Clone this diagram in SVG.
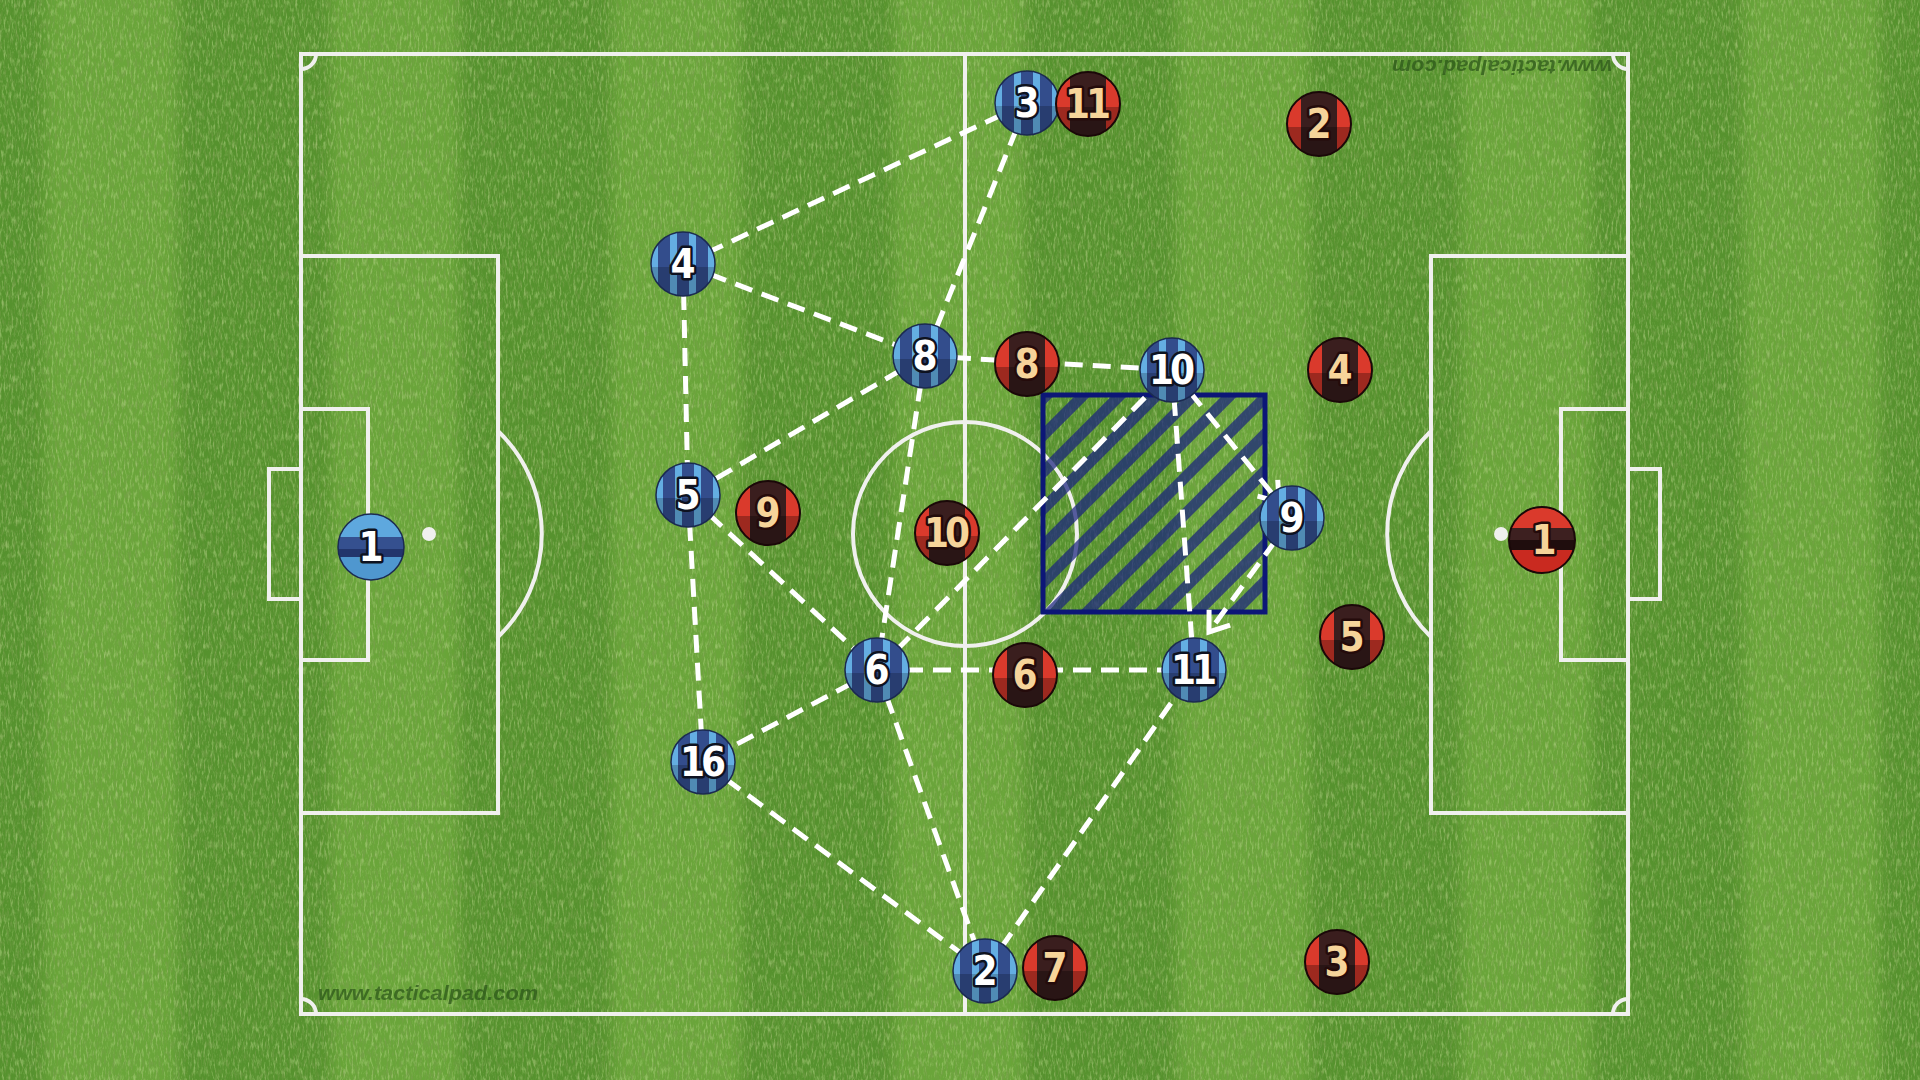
<svg xmlns="http://www.w3.org/2000/svg" xmlns:xlink="http://www.w3.org/1999/xlink" width="1920" height="1080" viewBox="0 0 1920 1080">
<style>
.line{fill:none;stroke:#f0f0ee;stroke-width:4}
.conn{fill:none;stroke:#ffffff;stroke-width:5;stroke-dasharray:18 10}
.num{font-family:"DejaVu Sans Condensed","DejaVu Sans",sans-serif;font-weight:bold;font-size:40px;text-anchor:middle;paint-order:stroke;stroke-linejoin:round;stroke-width:5}
.bn{fill:#ffffff;stroke:#0e1220}
.rn{fill:#f6d49a;stroke:#240b0b}
.two{letter-spacing:-4px}
.wm{font-family:"Liberation Sans",Arial,sans-serif;font-weight:bold;font-style:italic;font-size:20px;fill:#2a5418;opacity:.7}
</style>
<defs>
<filter id="grainD" x="0" y="0" width="1" height="1">
<feTurbulence type="fractalNoise" baseFrequency="0.45 0.1" numOctaves="3" seed="7"/>
<feColorMatrix type="matrix" values="0 0 0 0 0.2  0 0 0 0 0.34  0 0 0 0 0.08  3 0 0 0 -1.4"/>
</filter>
<filter id="grainL" x="0" y="0" width="1" height="1">
<feTurbulence type="fractalNoise" baseFrequency="0.5 0.12" numOctaves="3" seed="21"/>
<feColorMatrix type="matrix" values="0 0 0 0 0.55  0 0 0 0 0.75  0 0 0 0 0.3  3 0 0 0 -1.45"/>
</filter>
<filter id="soft" x="-0.1" y="0" width="1.2" height="1"><feGaussianBlur stdDeviation="7 0"/></filter>
<pattern id="hatch" patternUnits="userSpaceOnUse" width="26" height="26" patternTransform="rotate(45)">
<rect x="0" y="0" width="11" height="26" fill="#1a237e" fill-opacity="0.72"/>
</pattern>
<clipPath id="cp"><circle r="32"/></clipPath>
<clipPath id="cpg"><circle r="33"/></clipPath>
<marker id="arrow" markerUnits="userSpaceOnUse" markerWidth="40" markerHeight="40" viewBox="-30 -20 40 40" refX="0" refY="0" orient="auto">
<path d="M-18,-13 L0,0 L-18,13" fill="none" stroke="#ffffff" stroke-width="5" stroke-linecap="butt" stroke-linejoin="miter"/>
</marker>
<g id="blueTok">
<g clip-path="url(#cp)">
<rect x="-32" y="-32" width="64" height="64" fill="#64aee2"/>
<rect x="-25" y="-32" width="12" height="64" fill="#334d8c"/>
<rect x="-6" y="-32" width="12" height="64" fill="#334d8c"/>
<rect x="13" y="-32" width="12" height="64" fill="#334d8c"/>
<rect x="-32" y="3" width="64" height="30" fill="#000" opacity="0.2"/>
</g>
<circle r="32" fill="none" stroke="#1b2a50" stroke-width="1.5"/>
</g>
<g id="redTok">
<g clip-path="url(#cp)">
<rect x="-32" y="-32" width="64" height="64" fill="#da3a2c"/>
<rect x="-18" y="-32" width="36" height="64" fill="#3a1e1e"/>
<rect x="-32" y="3" width="64" height="30" fill="#000" opacity="0.28"/>
</g>
<circle r="32" fill="none" stroke="#1a0808" stroke-width="2"/>
</g>
<g id="blueGK">
<g clip-path="url(#cpg)">
<rect x="-33" y="-33" width="66" height="66" fill="#5ea8de"/>
<rect x="-33" y="-10" width="66" height="20" fill="#35508f"/>
<rect x="-33" y="2" width="66" height="8" fill="#22356c"/>
<rect x="-33" y="10" width="66" height="23" fill="#4f97cf"/>
</g>
<circle r="33" fill="none" stroke="#1b2a50" stroke-width="1.5"/>
</g>
<g id="redGK">
<g clip-path="url(#cpg)">
<rect x="-33" y="-33" width="66" height="66" fill="#da3a2c"/>
<rect x="-33" y="-12" width="66" height="22" fill="#3d2020"/>
<rect x="-33" y="0" width="66" height="10" fill="#1f0d0d"/>
<rect x="-33" y="10" width="66" height="23" fill="#c92a20"/>
</g>
<circle r="33" fill="none" stroke="#1a0808" stroke-width="2"/>
</g>
</defs>

<g id="grass">
<rect x="0" y="0" width="1920" height="1080" fill="#6aa53a"/>
<g fill="#57922d" filter="url(#soft)">
<rect x="-105" y="-10" width="150" height="1100"/>
<rect x="178" y="-10" width="153" height="1100"/>
<rect x="459" y="-10" width="153" height="1100"/>
<rect x="741" y="-10" width="153" height="1100"/>
<rect x="1024" y="-10" width="153" height="1100"/>
<rect x="1309" y="-10" width="153" height="1100"/>
<rect x="1591" y="-10" width="153" height="1100"/>
<rect x="1879" y="-10" width="153" height="1100"/>
</g>
<rect x="0" y="0" width="1920" height="1080" filter="url(#grainD)" opacity="0.6"/>
<rect x="0" y="0" width="1920" height="1080" filter="url(#grainL)" opacity="0.45"/>
</g>

<g id="pitch">
<rect class="line" x="301" y="54" width="1327" height="960"/>
<path class="line" d="M965,54 V1014"/>
<circle class="line" cx="965" cy="534" r="112"/>
<path class="line" d="M301,256 H498 V813 H301 M301,409 H368 V660 H301 M301,469 H269 V599 H301 M498,431 A143,143 0 0 1 498,637"/>
<path class="line" d="M1628,256 H1431 V813 H1628 M1628,409 H1561 V660 H1628 M1628,469 H1660 V599 H1628 M1431,431 A143,143 0 0 0 1431,637"/>
<path class="line" d="M316,54 A15,15 0 0 1 301,69 M1613,54 A15,15 0 0 0 1628,69 M301,999 A15,15 0 0 1 316,1014 M1628,999 A15,15 0 0 0 1613,1014"/>
<circle cx="429" cy="534" r="7" fill="#f0f0ee"/>
<circle cx="1501" cy="534" r="7" fill="#f0f0ee"/>
<circle cx="965" cy="534" r="5" fill="#f0f0ee"/>
<text class="wm" x="318" y="1000" textLength="220" lengthAdjust="spacingAndGlyphs">www.tacticalpad.com</text>
<text class="wm" x="0" y="0" textLength="220" lengthAdjust="spacingAndGlyphs" transform="translate(1612,60) rotate(180)">www.tacticalpad.com</text>
</g>

<g id="zone">
<rect x="1043" y="395" width="222" height="217" fill="url(#hatch)"/>
<rect x="1043" y="395" width="222" height="217" fill="none" stroke="#0c1677" stroke-width="5"/>
</g>

<g id="connectors">
<line class="conn" x1="1027" y1="103" x2="683" y2="264"/>
<line class="conn" x1="1027" y1="103" x2="925" y2="356"/>
<line class="conn" x1="683" y1="264" x2="925" y2="356"/>
<line class="conn" x1="683" y1="264" x2="688" y2="495"/>
<line class="conn" x1="925" y1="356" x2="688" y2="495"/>
<line class="conn" x1="925" y1="356" x2="1172" y2="370"/>
<line class="conn" x1="925" y1="356" x2="877" y2="670"/>
<line class="conn" x1="688" y1="495" x2="703" y2="762"/>
<line class="conn" x1="688" y1="495" x2="877" y2="670"/>
<line class="conn" x1="877" y1="670" x2="703" y2="762"/>
<line class="conn" x1="877" y1="670" x2="1172" y2="370"/>
<line class="conn" x1="877" y1="670" x2="1194" y2="670"/>
<line class="conn" x1="877" y1="670" x2="985" y2="971"/>
<line class="conn" x1="703" y1="762" x2="985" y2="971"/>
<line class="conn" x1="985" y1="971" x2="1194" y2="670"/>
<line class="conn" x1="1172" y1="370" x2="1194" y2="670"/>
<line class="conn" x1="1172" y1="370" x2="1279" y2="502" marker-end="url(#arrow)"/>
<line class="conn" x1="1292" y1="518" x2="1209" y2="632" marker-end="url(#arrow)"/>
</g>

<g id="blue-1"><use xlink:href="#blueGK" x="371" y="547"/><text class="num bn" x="371" y="561" font-size="38">1</text></g>
<g id="blue-3"><use xlink:href="#blueTok" x="1027" y="103"/><text class="num bn" x="1027" y="117">3</text></g>
<g id="blue-4"><use xlink:href="#blueTok" x="683" y="264"/><text class="num bn" x="683" y="278">4</text></g>
<g id="blue-8"><use xlink:href="#blueTok" x="925" y="356"/><text class="num bn" x="925" y="370">8</text></g>
<g id="blue-10"><use xlink:href="#blueTok" x="1172" y="370"/><text class="num bn two" x="1170" y="384">10</text></g>
<g id="blue-5"><use xlink:href="#blueTok" x="688" y="495"/><text class="num bn" x="688" y="509">5</text></g>
<g id="blue-9"><use xlink:href="#blueTok" x="1292" y="518"/><text class="num bn" x="1292" y="532">9</text></g>
<g id="blue-6"><use xlink:href="#blueTok" x="877" y="670"/><text class="num bn" x="877" y="684">6</text></g>
<g id="blue-11"><use xlink:href="#blueTok" x="1194" y="670"/><text class="num bn two" x="1192" y="684">11</text></g>
<g id="blue-16"><use xlink:href="#blueTok" x="703" y="762"/><text class="num bn two" x="701" y="776">16</text></g>
<g id="blue-2"><use xlink:href="#blueTok" x="985" y="971"/><text class="num bn" x="985" y="985">2</text></g>

<g id="red-11"><use xlink:href="#redTok" x="1088" y="104"/><text class="num rn two" x="1086" y="118">11</text></g>
<g id="red-2"><use xlink:href="#redTok" x="1319" y="124"/><text class="num rn" x="1319" y="138">2</text></g>
<g id="red-8"><use xlink:href="#redTok" x="1027" y="364"/><text class="num rn" x="1027" y="378">8</text></g>
<g id="red-4"><use xlink:href="#redTok" x="1340" y="370"/><text class="num rn" x="1340" y="384">4</text></g>
<g id="red-9"><use xlink:href="#redTok" x="768" y="513"/><text class="num rn" x="768" y="527">9</text></g>
<g id="red-10"><use xlink:href="#redTok" x="947" y="533"/><text class="num rn two" x="945" y="547">10</text></g>
<g id="red-1"><use xlink:href="#redGK" x="1542" y="540"/><text class="num rn" x="1544" y="554" font-size="38">1</text></g>
<g id="red-5"><use xlink:href="#redTok" x="1352" y="637"/><text class="num rn" x="1352" y="651">5</text></g>
<g id="red-6"><use xlink:href="#redTok" x="1025" y="675"/><text class="num rn" x="1025" y="689">6</text></g>
<g id="red-7"><use xlink:href="#redTok" x="1055" y="968"/><text class="num rn" x="1055" y="982">7</text></g>
<g id="red-3"><use xlink:href="#redTok" x="1337" y="962"/><text class="num rn" x="1337" y="976">3</text></g>
</svg>
